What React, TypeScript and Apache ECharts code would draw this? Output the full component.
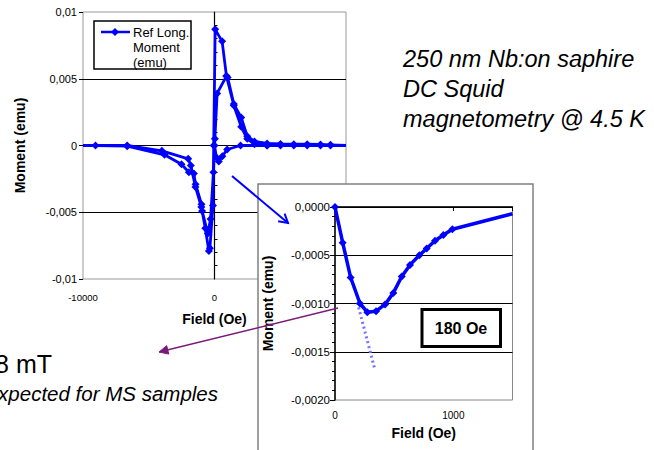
import React, { useEffect, useRef } from 'react';
import * as echarts from 'echarts';

const FONT = '"Liberation Sans", Arial, Helvetica, sans-serif';
const BLUE = '#0000ff';

// Main hysteresis loop (virgin curve, decreasing branch, increasing branch)
const virginField = [0, 150, 330, 600, 960, 1980, 4000, 5020, 6030, 7050, 8060, 8820, 10000];
const virginMoment = [0, -0.0009, -0.0012, -0.0008, -0.0003, 0, 0, 0, 0, 0, 0, 0, 0];

const descField = [10000, 8820, 8060, 7050, 6030, 5020, 4000, 3040, 2490, 2030, 1470, 1000, 910, 200, 30, -80, -300, -510, -940, -990, -1440, -1570, -1950, -2510, -3800, -6640, -9050, -10000];
const descMoment = [0.00005, 0.00005, 0.00008, 0.0001, 0.0001, 0.00012, 0.00015, 0.0003, 0.0007, 0.0021, 0.0031, 0.0051, 0.0052, 0.0039, 0.0005, -0.002, -0.0055, -0.0066, -0.0049, -0.0044, -0.0029, -0.0021, -0.002, -0.0014, -0.0007, -0.00005, 0, 0];

const ascField = [-10000, -6640, -4000, -2000, -1800, -1450, -1000, -700, -430, -350, -120, -60, 50, 580, 910, 1470, 2030, 2490, 3040, 4000, 10000];
const ascMoment = [0, 0, -0.0004, -0.001, -0.0015, -0.0031, -0.0046, -0.0062, -0.0079, -0.0077, -0.0045, 0, 0.0087, 0.0078, 0.0052, 0.003, 0.0014, 0.0005, 0.0001, 0, 0];

// Inset: virgin curve, low field
const insetField = [0, 65, 132, 211, 273, 347, 423, 493, 564, 634, 713, 775, 845, 916, 992, 1500];
const insetMoment = [0, -0.00037, -0.00073, -0.001, -0.00109, -0.00108, -0.00101, -0.00089, -0.00072, -0.0006, -0.0005, -0.00043, -0.00035, -0.00029, -0.00023, -0.00007];

// Linear extrapolation (dotted)
const extrapField = [189, 338];
const extrapMoment = [-0.00099, -0.00169];

const mainTicks = { min: -0.01, max: 0.01, interval: 0.005 };
const insetTicks = { min: -0.002, max: 0, interval: 0.0005 };

function arrowHead(x1: number, y1: number, x2: number, y2: number, len: number, half: number) {
  const a = Math.atan2(y2 - y1, x2 - x1);
  return [
    [x2 - len * Math.cos(a - half), y2 - len * Math.sin(a - half)],
    [x2, y2],
    [x2 - len * Math.cos(a + half), y2 - len * Math.sin(a + half)],
  ];
}

export default function App() {
  const ref = useRef<HTMLDivElement>(null);

  useEffect(() => {
    document.body.style.margin = '0';
    if (!ref.current) return;
    const chart = echarts.init(ref.current, undefined, { renderer: 'svg' });

    const loopF = [...virginField, ...descField, ...ascField];
    const loopM = [...virginMoment, ...descMoment, ...ascMoment];
    const mainData = loopF.map((x, i) =>
      Math.abs(x) >= 10000 ? { value: [x, loopM[i]], symbol: 'none' } : [x, loopM[i]]
    );
    const insetData = insetField.map((x, i) =>
      i === insetField.length - 1 ? { value: [x, insetMoment[i]], symbol: 'none' } : [x, insetMoment[i]]
    );
    const extrapData = extrapField.map((x, i) => [x, extrapMoment[i]]);

    const mainFmt = (v: number) => String(parseFloat(v.toFixed(4))).replace('.', ',');
    const insetFmt = (v: number) => (Math.abs(v) < 1e-9 ? 0 : v).toFixed(4).replace('.', ',');
    const intFmt = (v: number) => String(Math.round(v));

    const labelStyle = { color: '#000', fontFamily: FONT };
    const nameStyle = { color: '#000', fontFamily: FONT, fontWeight: 'bold' as const, fontSize: 14 };

    const blueArrow = { x1: 232, y1: 176, x2: 288, y2: 223 };
    const purpleArrow = { x1: 338, y1: 308, x2: 159, y2: 352 };

    chart.setOption({
      animation: false,
      backgroundColor: '#fff',
      grid: [
        { left: 83, top: 12, width: 263, height: 267, show: true, borderColor: '#999', borderWidth: 1 },
        { left: 335, top: 207, width: 177.5, height: 193, show: true, borderColor: '#888', borderWidth: 1, backgroundColor: 'rgba(0,0,0,0)', z: 15 },
      ],
      xAxis: [
        {
          gridIndex: 0, type: 'value', min: -10000, max: 10000, interval: 10000,
          axisLine: { show: false, onZero: false }, axisTick: { show: false }, splitLine: { show: false },
          axisLabel: { ...labelStyle, fontSize: 9.5, margin: 13, formatter: intFmt },
          name: 'Field (Oe)', nameLocation: 'middle', nameGap: 33, nameTextStyle: nameStyle,
        },
        {
          gridIndex: 1, type: 'value', min: 0, max: 1500, interval: 1000, z: 20,
          axisLine: { show: false, onZero: false }, axisTick: { show: false }, splitLine: { show: false },
          axisLabel: { ...labelStyle, fontSize: 10, margin: 10, formatter: intFmt, showMaxLabel: false },
          name: 'Field (Oe)', nameLocation: 'middle', nameGap: 26, nameTextStyle: nameStyle,
        },
        {
          gridIndex: 1, type: 'value', position: 'top', min: 0, max: 1500, interval: 1000, z: 20,
          axisLine: { show: true, onZero: false, lineStyle: { color: '#000', width: 1.5 } },
          axisTick: { show: true, inside: true, length: 4, lineStyle: { color: '#000' } },
          axisLabel: { show: false }, splitLine: { show: false },
        },
      ],
      yAxis: [
        {
          gridIndex: 0, type: 'value', ...mainTicks,
          axisLine: { show: false, onZero: false },
          axisTick: { show: true, length: 4, lineStyle: { color: '#000' } },
          splitLine: { show: true, showMinLine: false, showMaxLine: false, lineStyle: { color: '#000', width: 1 } },
          axisLabel: { ...labelStyle, fontSize: 11, margin: 6, formatter: mainFmt },
          name: 'Moment (emu)', nameLocation: 'middle', nameGap: 56, nameTextStyle: nameStyle,
        },
        {
          gridIndex: 0, type: 'value', ...mainTicks,
          axisLine: { show: true, onZero: true, lineStyle: { color: '#000', width: 1.2 } },
          axisTick: { show: false },
          minorTick: { show: true, splitNumber: 5, length: 3, lineStyle: { color: '#000' } },
          axisLabel: { show: false }, splitLine: { show: false },
        },
        {
          gridIndex: 1, type: 'value', ...insetTicks, z: 20,
          axisLine: { show: true, onZero: false, lineStyle: { color: '#000', width: 1.5 } },
          axisTick: { show: true, length: 5, lineStyle: { color: '#000' } },
          minorTick: { show: true, splitNumber: 5, length: 3, lineStyle: { color: '#000' } },
          splitLine: { show: true, showMinLine: false, lineStyle: { color: '#000', width: 1 } },
          axisLabel: { ...labelStyle, fontSize: 11.5, margin: 5, formatter: insetFmt },
          name: 'Moment (emu)', nameLocation: 'middle', nameGap: 60, nameTextStyle: nameStyle,
        },
      ],
      series: [
        {
          type: 'line', xAxisIndex: 0, yAxisIndex: 0, data: mainData, z: 2,
          symbol: 'diamond', symbolSize: 8,
          lineStyle: { color: BLUE, width: 2.8 }, itemStyle: { color: BLUE },
        },
        {
          type: 'line', xAxisIndex: 1, yAxisIndex: 2, data: extrapData, z: 29,
          showSymbol: false, lineStyle: { color: '#7474ff', width: 3, type: [2, 3] },
        },
        {
          type: 'line', xAxisIndex: 1, yAxisIndex: 2, data: insetData, z: 30,
          symbol: 'diamond', symbolSize: 8,
          lineStyle: { color: BLUE, width: 3.5 }, itemStyle: { color: BLUE },
        },
      ],
      graphic: [
        // legend
        { type: 'rect', z: 5, shape: { x: 94, y: 21, width: 97, height: 48 }, style: { fill: '#fff', stroke: '#000', lineWidth: 1.5 } },
        { type: 'line', z: 6, shape: { x1: 101, y1: 32, x2: 130, y2: 32 }, style: { stroke: BLUE, lineWidth: 2.5 } },
        { type: 'polygon', z: 6, shape: { points: [[115, 28], [119, 32], [115, 36], [111, 32]] }, style: { fill: BLUE } },
        { type: 'text', z: 6, x: 133, y: 25, style: { text: 'Ref Long.\nMoment\n(emu)', fill: '#000', fontFamily: FONT, fontSize: 13, lineHeight: 15, align: 'left', verticalAlign: 'top' } },
        // inset box
        { type: 'rect', z: 10, shape: { x: 258, y: 184, width: 275, height: 280 }, style: { fill: '#fff', stroke: '#808080', lineWidth: 1.5 } },
        // 180 Oe box
        { type: 'rect', z: 35, shape: { x: 422, y: 309.5, width: 78.5, height: 37 }, style: { fill: '#fff', stroke: '#000', lineWidth: 3 } },
        { type: 'text', z: 36, x: 461, y: 328, style: { text: '180 Oe', fill: '#000', fontFamily: FONT, fontWeight: 'bold', fontSize: 16, align: 'center', verticalAlign: 'middle' } },
        // annotations
        { type: 'text', z: 40, x: 403, y: 58.5, style: { text: '250 nm Nb:on saphire', fill: '#000', fontFamily: FONT, fontStyle: 'italic', fontSize: 23.5, align: 'left', verticalAlign: 'middle' } },
        { type: 'text', z: 40, x: 403, y: 88.5, style: { text: 'DC Squid', fill: '#000', fontFamily: FONT, fontStyle: 'italic', fontSize: 23.5, align: 'left', verticalAlign: 'middle' } },
        { type: 'text', z: 40, x: 403, y: 118.5, style: { text: 'magnetometry @ 4.5 K', fill: '#000', fontFamily: FONT, fontStyle: 'italic', fontSize: 23.5, align: 'left', verticalAlign: 'middle' } },
        { type: 'text', z: 40, x: 52, y: 364, style: { text: '18 mT', fill: '#000', fontFamily: FONT, fontSize: 25, align: 'right', verticalAlign: 'middle' } },
        { type: 'text', z: 40, x: 218, y: 393, style: { text: 'Expected for MS samples', fill: '#000', fontFamily: FONT, fontStyle: 'italic', fontSize: 20.5, align: 'right', verticalAlign: 'middle' } },
        // blue arrow
        { type: 'line', z: 40, shape: { ...blueArrow }, style: { stroke: BLUE, lineWidth: 2 } },
        { type: 'polyline', z: 40, shape: { points: arrowHead(blueArrow.x1, blueArrow.y1, blueArrow.x2, blueArrow.y2, 10, Math.PI / 6) }, style: { stroke: BLUE, lineWidth: 2, fill: 'none' } },
        // purple arrow
        { type: 'line', z: 40, shape: { ...purpleArrow }, style: { stroke: '#7a1a7a', lineWidth: 1.5 } },
        { type: 'polygon', z: 40, shape: { points: arrowHead(purpleArrow.x1, purpleArrow.y1, purpleArrow.x2, purpleArrow.y2, 10, Math.PI / 7) }, style: { fill: '#7a1a7a', stroke: '#7a1a7a', lineWidth: 1 } },
      ],
    });

    return () => chart.dispose();
  }, []);

  return <div ref={ref} style={{ position: 'fixed', left: 0, top: 0, width: 654, height: 450 }} />;
}
